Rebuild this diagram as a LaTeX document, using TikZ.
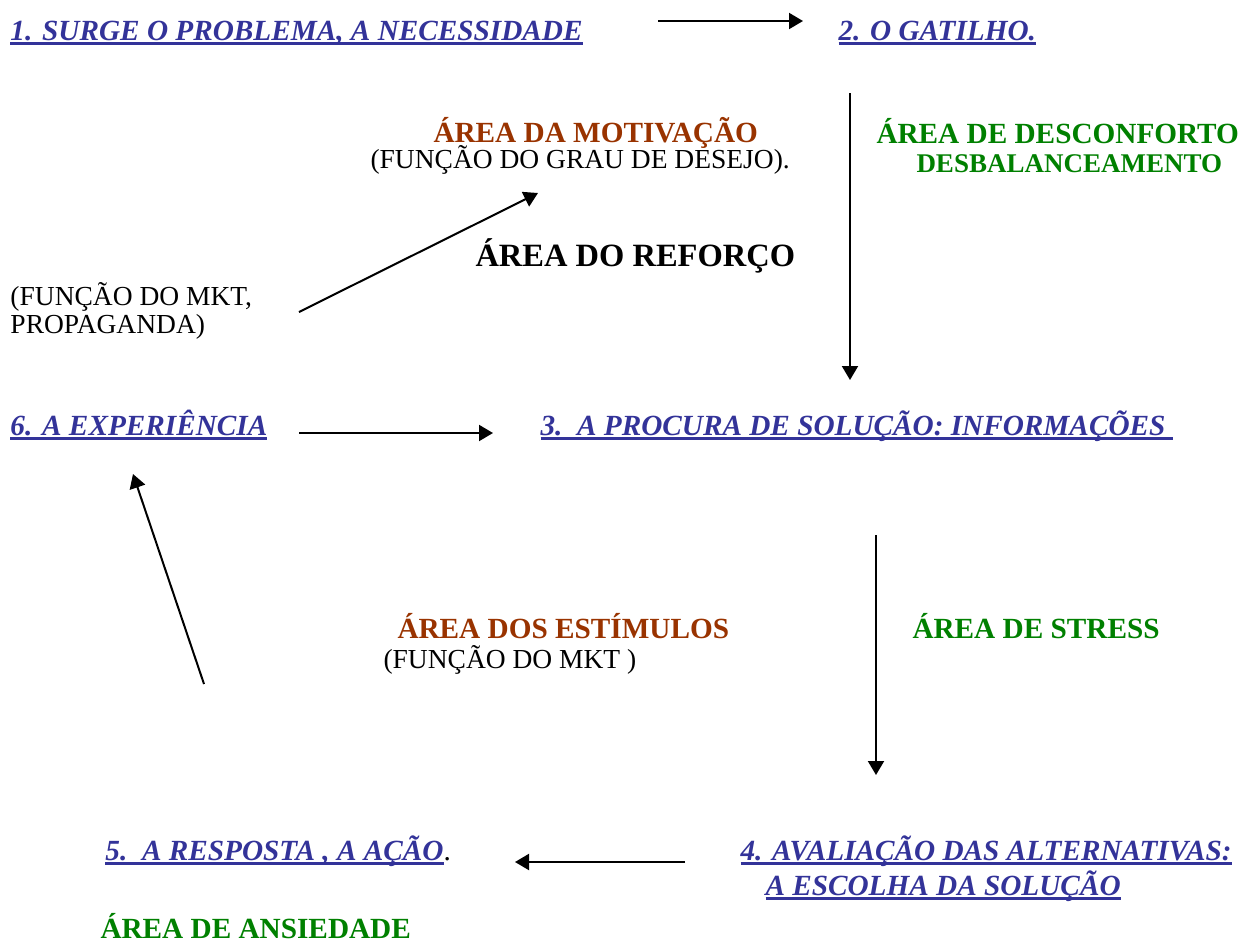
\documentclass[tikz,border=0pt]{standalone}
\usepackage{fontspec}
\setmainfont{Liberation Serif}
\usetikzlibrary{arrows.meta}

\definecolor{azulEtapa}{RGB}{51,51,153}
\definecolor{marromArea}{RGB}{153,51,0}
\definecolor{verdeArea}{RGB}{0,128,0}

\newcommand{\sublinha}[1]{\setbox0\hbox{#1}\rlap{\rule[-2pt]{\wd0}{1.2pt}}\box0}

\tikzstyle{txt} = [anchor=base west, inner sep=0pt, font=\fontsize{11pt}{13pt}\selectfont]
\tikzstyle{etapa} = [txt, font=\fontsize{11.7pt}{14pt}\selectfont\bfseries\itshape, text=azulEtapa]
\tikzstyle{motivo} = [txt, font=\fontsize{11.7pt}{14pt}\selectfont\bfseries, text=marromArea]
\tikzstyle{tensao} = [txt, font=\fontsize{11.7pt}{14pt}\selectfont\bfseries, text=verdeArea]
\tikzstyle{seta} = [-{Triangle[length=5.6pt,width=6.4pt]}, line width=0.8pt]

\begin{document}
\begin{tikzpicture}[x=0.4pt, y=-0.4pt]
  \useasboundingbox (0,0) rectangle (1256,941);

  % etapas do ciclo
  \node (p1) at (10,40) [etapa] {\sublinha{1. SURGE O PROBLEMA, A NECESSIDADE}};
  \node (p2) at (838,40) [etapa] {\sublinha{2. O GATILHO.}};
  \node (p3) at (540,435) [etapa] {\sublinha{3.\ \ A PROCURA DE SOLUÇÃO: INFORMAÇÕES\ }};
  \node (p4a) at (740,860) [etapa] {\sublinha{4. AVALIAÇÃO DAS ALTERNATIVAS:}};
  \node (p4b) at (765,895) [etapa] {\sublinha{A ESCOLHA DA SOLUÇÃO}};
  \node (p5) at (105,860) [etapa] {\sublinha{5.\ \ A RESPOSTA , A AÇÃO}\textcolor{black}{\upshape\mdseries.}};
  \node (p6) at (10,435) [etapa] {\sublinha{6. A EXPERIÊNCIA}};

  % areas
  \node (mot) at (433,142) [motivo] {ÁREA DA MOTIVAÇÃO};
  \node (motf) at (370,168) [txt] {(FUNÇÃO DO GRAU DE DESEJO).};
  \node (desc) at (876,143) [tensao] {ÁREA DE DESCONFORTO};
  \node (desb) at (916,172) [tensao, font=\fontsize{10.8pt}{13pt}\selectfont\bfseries] {DESBALANCEAMENTO};
  \node (ref) at (475,266) [txt, font=\fontsize{13pt}{16pt}\selectfont\bfseries] {ÁREA DO REFORÇO};
  \node (mkt1) at (10,305) [txt] {(FUNÇÃO DO MKT,};
  \node (mkt2) at (10,333) [txt] {PROPAGANDA)};
  \node (est) at (397,638) [motivo] {ÁREA DOS ESTÍMULOS};
  \node (estf) at (383,668) [txt] {(FUNÇÃO DO MKT )};
  \node (str) at (912,638) [tensao] {ÁREA DE STRESS};
  \node (ans) at (100,938) [tensao] {ÁREA DE ANSIEDADE};

  % pontas das setas
  \coordinate (s12a) at (658,21);
  \coordinate (s12b) at (803,21);
  \coordinate (s23a) at (850,93);
  \coordinate (s23b) at (850,380);
  \coordinate (s34a) at (876,535);
  \coordinate (s34b) at (876,775);
  \coordinate (s45a) at (685,862);
  \coordinate (s45b) at (515,862);
  \coordinate (s56a) at (204,684);
  \coordinate (s56b) at (133,474);
  \coordinate (s63a) at (299,433);
  \coordinate (s63b) at (493,433);
  \coordinate (smka) at (299,312);
  \coordinate (smkb) at (538,193);

  \draw [seta] (s12a) -- (s12b);
  \draw [seta] (s23a) -- (s23b);
  \draw [seta] (s34a) -- (s34b);
  \draw [seta] (s45a) -- (s45b);
  \draw [seta] (s56a) -- (s56b);
  \draw [seta] (s63a) -- (s63b);
  \draw [seta] (smka) -- (smkb);
\end{tikzpicture}
\end{document}
